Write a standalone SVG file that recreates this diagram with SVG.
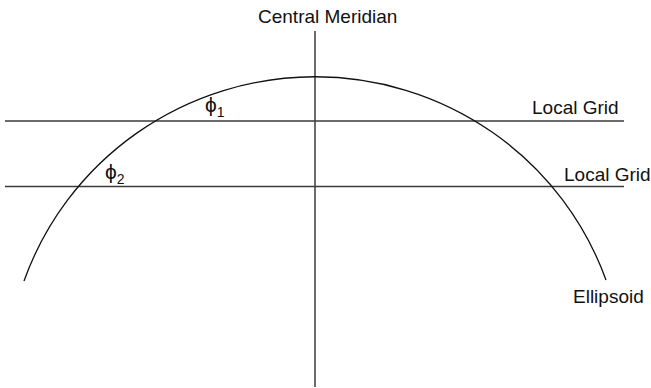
<svg xmlns="http://www.w3.org/2000/svg" width="651" height="388" viewBox="0 0 651 388">
<style>
.ln{stroke:#3a3a3a;stroke-width:1.5;fill:none}
.arc{stroke:#111;stroke-width:1.3;fill:none}
.t{font-family:"Liberation Sans",Arial,sans-serif;font-size:19px;fill:#111}
.p{font-size:21px}
.s{font-size:14px}
</style>
<rect width="651" height="388" fill="#fff"/>
<g id="connectors">
<line class="ln" x1="315" y1="31" x2="315" y2="387"/>
<line class="ln" x1="5" y1="121" x2="624" y2="121"/>
<line class="ln" x1="5" y1="186.5" x2="624" y2="186.5"/>
</g>
<g id="ellipsoid">
<path class="arc" d="M 24 281 A 309 307 0 0 1 606 280"/>
<text class="t" x="573" y="303">Ellipsoid</text>
</g>
<g id="central-meridian">
<text class="t" x="258" y="23">Central Meridian</text>
</g>
<g id="local-grid-1">
<text class="t" x="532" y="114">Local Grid</text>
</g>
<g id="local-grid-2">
<text class="t" x="564" y="180.5">Local Grid</text>
</g>
<g id="phi1">
<text class="t p" x="205" y="112">ϕ<tspan class="s" dy="5">1</tspan></text>
</g>
<g id="phi2">
<text class="t p" x="105" y="179">ϕ<tspan class="s" dy="5">2</tspan></text>
</g>
</svg>
